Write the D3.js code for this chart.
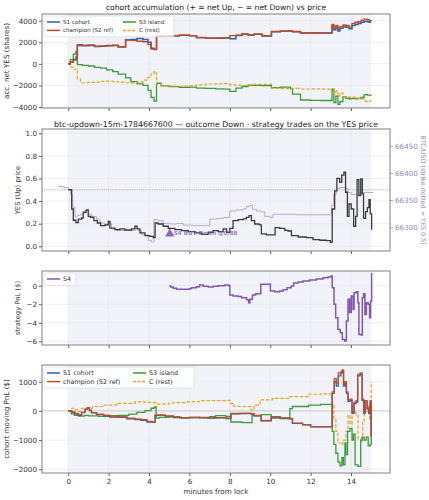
<!DOCTYPE html>
<html><head><meta charset="utf-8">
<script src="https://cdn.jsdelivr.net/npm/d3@7"></script>
<style>body{margin:0;background:#fff}svg{display:block;font-family:"DejaVu Sans",sans-serif}</style>
</head><body><svg id="c" width="429" height="500"></svg>
<script>
// ---------- data ----------
const xTicks = [0, 2, 4, 6, 8, 10, 12, 14];
const accTicks = [-4000, -2000, 0, 2000, 4000];
const priceTicks = [0, 0.2, 0.4, 0.6, 0.8, 1.0];
const btcTicks = [66300, 66350, 66400, 66450];
const s4Ticks = [-6, -4, -2, 0];
const pnlTicks = [-2000, -1000, 0, 1000];
const cohortNames = ["S1 cohort", "champion (S2 ref)", "S3 island", "C (rest)"];
const titles = ["cohort accumulation (+ = net Up, \u2212 = net Down) vs price",
  "btc-updown-15m-1784667600 \u2014 outcome Down \u00b7 strategy trades on the YES price"];
const strikePrice = 0.5;
const trade = {t: 5.03, p: 0.11, label: "S4 BUY Down @0.88"};

// panel 1: accumulated net YES shares [minute, shares]
const champAcc = [[0,0],[0.1,150],[0.25,400],[0.38,650],[0.45,1780],[0.7,1720],[1.0,1760],[1.3,1640],[1.6,1650],[1.9,1700],[2.2,1730],[2.47,1580],[2.84,2200],[3.1,2180],[3.4,2100],[3.7,2050],[3.95,1800],[4.1,1380],[4.25,1320],[4.37,2600],[4.6,2620],[5.0,2600],[5.5,2650],[6.0,2620],[6.35,2450],[6.8,2380],[7.3,2400],[7.7,2420],[8.0,2620],[8.3,2650],[8.6,2780],[8.9,2700],[9.2,2760],[9.6,2600],[10.06,3000],[10.5,3050],[11.0,3080],[11.1,3000],[11.5,2880],[12.0,2880],[12.5,2870],[13.06,3650],[13.15,3300],[13.25,3550],[13.35,3200],[13.45,3450],[13.6,3600],[13.75,3550],[13.9,3400],[14.05,3750],[14.2,3850],[14.35,3900],[14.5,4050],[14.65,4150],[14.8,4100],[14.9,4000],[15.0,3950]];
const s1Acc = [[0,0],[0.1,150],[0.25,350],[0.38,550],[0.45,1700],[0.7,1680],[1.0,1700],[1.3,1600],[1.6,1620],[1.9,1680],[2.2,1700],[2.47,1560],[2.84,2230],[3.1,2250],[3.4,2350],[3.7,2250],[3.95,2000],[4.1,1450],[4.25,1350],[4.37,2580],[4.6,2600],[5.0,2600],[5.5,2640],[6.0,2600],[6.35,2430],[6.8,2370],[7.3,2380],[7.7,2400],[8.0,2330],[8.3,2620],[8.6,2760],[8.9,2680],[9.2,2740],[9.6,2580],[10.06,2980],[10.5,3020],[11.0,3060],[11.1,2980],[11.5,2870],[12.0,2870],[12.5,2860],[13.06,3500],[13.15,3150],[13.25,3400],[13.35,3050],[13.45,3300],[13.6,3450],[13.75,3400],[13.9,3250],[14.05,3550],[14.2,3650],[14.35,3750],[14.5,3850],[14.65,3950],[14.8,3900],[14.9,3850],[15.0,3850]];
const s3Acc = [[0,0],[0.1,400],[0.25,900],[0.38,1150],[0.45,-80],[0.7,-150],[1.0,-200],[1.3,-330],[1.6,-400],[1.9,-560],[2.2,-720],[2.47,-950],[2.84,-1300],[3.1,-1650],[3.4,-1850],[3.7,-2000],[3.95,-2450],[4.1,-3100],[4.25,-3450],[4.37,-1800],[4.6,-2050],[5.0,-2120],[5.5,-2180],[6.0,-2150],[6.35,-2250],[6.8,-2270],[7.3,-2320],[7.7,-2350],[8.0,-2550],[8.3,-2250],[8.6,-2100],[8.9,-2000],[9.2,-2000],[9.6,-2020],[10.06,-2200],[10.5,-2150],[11.0,-2300],[11.1,-2800],[11.5,-3350],[12.0,-3380],[12.5,-3400],[13.06,-2400],[13.15,-3600],[13.25,-3000],[13.35,-3750],[13.45,-3500],[13.6,-3050],[13.75,-3200],[13.9,-3250],[14.05,-3200],[14.2,-3250],[14.35,-3200],[14.5,-3100],[14.65,-2850],[14.8,-2900],[15.0,-2880]];
const cAcc = [[0,0],[0.1,-300],[0.25,-500],[0.38,-650],[0.45,-1400],[0.6,-1750],[1.0,-1720],[1.3,-1700],[1.6,-1620],[1.9,-1600],[2.2,-1640],[2.47,-1700],[2.84,-1750],[3.1,-1760],[3.4,-1700],[3.7,-1500],[3.95,-1250],[4.1,-900],[4.25,-720],[4.37,-1900],[4.6,-2050],[5.0,-2060],[5.5,-2080],[6.0,-2050],[6.35,-1950],[6.8,-1870],[7.3,-1850],[7.7,-1830],[8.0,-1950],[8.3,-2000],[8.6,-2000],[8.9,-1950],[9.2,-1900],[9.6,-1900],[10.06,-2250],[10.5,-2300],[11.0,-2280],[11.5,-2330],[12.0,-2320],[12.5,-2340],[13.06,-2300],[13.15,-2800],[13.25,-2500],[13.35,-3000],[13.45,-2700],[13.6,-3050],[13.75,-3050],[13.9,-3100],[14.05,-3080],[14.2,-3150],[14.35,-3200],[14.5,-3250],[14.65,-3450],[14.8,-3500],[14.9,-3450],[15.0,-3470]];

// panel 2: YES price [minute, price] and BTC [minute, usd]
const yesPrice = [[0,0.5],[0.12,0.5],[0.17,0.33],[0.25,0.23],[0.38,0.21],[0.5,0.24],[0.66,0.25],[0.74,0.3],[0.88,0.32],[0.99,0.265],[1.11,0.255],[1.27,0.227],[1.44,0.206],[1.6,0.183],[1.82,0.19],[1.98,0.22],[2.06,0.16],[2.31,0.147],[2.56,0.153],[2.8,0.144],[3.13,0.153],[3.3,0.177],[3.41,0.153],[3.55,0.118],[3.8,0.094],[4.04,0.088],[4.21,0.076],[4.3,0.206],[4.45,0.197],[4.7,0.177],[4.95,0.159],[5.28,0.147],[5.61,0.138],[5.94,0.13],[6.27,0.118],[6.6,0.106],[6.93,0.124],[7.17,0.138],[7.42,0.13],[7.67,0.153],[7.84,0.124],[8.0,0.159],[8.16,0.227],[8.41,0.236],[8.66,0.242],[8.82,0.256],[8.95,0.271],[9.07,0.227],[9.23,0.197],[9.45,0.189],[9.56,0.109],[9.81,0.1],[10.14,0.1],[10.24,0.165],[10.47,0.159],[10.72,0.141],[10.88,0.135],[11.05,0.094],[11.38,0.082],[11.79,0.076],[12.12,0.059],[12.45,0.053],[12.78,0.05],[12.98,0.035],[13.07,0.33],[13.19,0.49],[13.3,0.6],[13.44,0.566],[13.54,0.63],[13.65,0.655],[13.73,0.478],[13.82,0.265],[13.9,0.374],[14.01,0.33],[14.13,0.177],[14.23,0.265],[14.3,0.59],[14.39,0.448],[14.48,0.596],[14.56,0.463],[14.62,0.247],[14.72,0.306],[14.81,0.342],[14.89,0.413],[14.95,0.286],[15.02,0.147]];
const btcUsd = [[-0.49,66375],[-0.25,66373],[0,66369],[0.12,66361],[0.22,66337],[0.33,66320],[0.45,66322],[0.61,66324],[0.78,66330],[0.91,66333],[1.0,66324],[1.16,66320],[1.4,66315],[1.57,66308],[1.81,66304],[1.98,66308],[2.14,66297],[2.39,66294],[2.89,66294],[3.3,66298],[3.46,66294],[3.63,66286],[3.96,66276],[4.12,66273],[4.24,66314],[4.45,66312],[4.7,66307],[5.03,66306],[5.36,66307],[5.69,66304],[6.18,66303],[6.68,66303],[7.01,66315],[7.34,66316],[7.67,66318],[8.0,66330],[8.33,66332],[8.66,66334],[8.82,66338],[8.99,66340],[9.12,66333],[9.32,66330],[9.56,66328],[9.73,66320],[9.98,66318],[10.14,66324],[10.64,66324],[11.29,66323],[12.12,66323],[12.94,66323],[13.03,66340],[13.14,66361],[13.27,66371],[13.44,66373],[13.73,66371],[13.85,66364],[14.01,66360],[14.26,66360],[14.43,66364],[14.76,66364],[15.09,66365]];
const strikeUsd = 66368.6;

// panel 3: S4 strategy PnL [minute, $]
const s4Pnl = [[5.0,-0.03],[5.07,-0.14],[5.2,-0.28],[5.36,-0.39],[5.69,-0.39],[5.99,-0.32],[6.1,-0.21],[6.35,-0.1],[6.51,0.08],[6.68,-0.07],[6.93,-0.14],[7.18,-0.07],[7.42,0.0],[7.75,0.08],[7.95,0.0],[8.0,-1.0],[8.16,-1.11],[8.41,-1.15],[8.58,-1.29],[8.83,-1.51],[8.93,-1.83],[8.99,-1.47],[9.12,-1.0],[9.28,-0.86],[9.53,0.15],[9.73,0.15],[9.98,0.15],[10.01,-0.57],[10.22,-0.65],[10.47,-0.57],[10.64,-0.43],[10.83,-0.21],[11.04,-0.03],[11.16,0.29],[11.38,0.4],[11.63,0.51],[11.95,0.62],[12.28,0.72],[12.61,0.87],[12.86,0.94],[13.02,1.05],[13.07,-0.21],[13.16,-2.01],[13.24,-3.46],[13.35,-4.72],[13.47,-5.08],[13.57,-5.8],[13.69,-5.98],[13.77,-3.82],[13.85,-1.47],[13.93,-2.9],[14.01,-1.11],[14.1,-2.56],[14.15,-0.75],[14.26,-0.65],[14.34,-1.83],[14.39,-5.26],[14.51,-5.33],[14.56,-1.29],[14.62,-0.86],[14.69,-3.1],[14.76,-1.83],[14.85,-2.01],[14.92,-3.46],[14.97,-1.65],[15.02,1.41]];

// panel 4: cohort moving PnL [minute, $]
const champPnl = [[0,0],[0.17,-40],[0.33,-90],[0.5,-130],[0.66,-50],[0.83,60],[0.95,110],[1.05,20],[1.15,-60],[1.4,-110],[1.75,-150],[2.05,-190],[2.5,-200],[2.9,-250],[3.3,-280],[3.6,-300],[3.9,-360],[4.15,-380],[4.3,-150],[4.4,-140],[4.8,-170],[5.2,-220],[5.6,-230],[6.0,-220],[6.5,-230],[6.9,-240],[7.3,-230],[7.8,-250],[8.05,-90],[8.5,-80],[9.05,-100],[9.2,-160],[9.55,-330],[10.05,-200],[10.5,-250],[10.95,-260],[11.1,-420],[11.6,-470],[12.0,-540],[12.5,-540],[13.07,650],[13.17,1100],[13.27,950],[13.37,1300],[13.5,1350],[13.57,1400],[13.63,900],[13.7,1000],[13.77,650],[13.85,380],[13.95,400],[14.05,-40],[14.15,300],[14.25,350],[14.33,1250],[14.45,1300],[14.55,400],[14.63,-40],[14.7,350],[14.8,100],[14.88,-50],[14.95,350],[15.0,-900]];
const s1Pnl = [[0,0],[0.17,-50],[0.33,-100],[0.5,-150],[0.66,-60],[0.83,50],[0.95,100],[1.05,10],[1.15,-70],[1.4,-130],[1.75,-170],[2.05,-210],[2.5,-220],[2.9,-270],[3.3,-300],[3.6,-320],[3.9,-380],[4.15,-390],[4.3,-160],[4.4,-150],[4.8,-180],[5.2,-230],[5.6,-240],[6.0,-230],[6.5,-240],[6.9,-250],[7.3,-240],[7.8,-260],[8.05,-100],[8.5,-90],[9.05,-110],[9.2,-170],[9.55,-340],[10.05,-210],[10.5,-260],[10.95,-270],[11.1,-430],[11.6,-480],[12.0,-550],[12.5,-550],[13.07,600],[13.17,1000],[13.27,850],[13.37,1200],[13.5,1300],[13.57,1350],[13.63,850],[13.7,950],[13.77,600],[13.85,330],[13.95,350],[14.05,-80],[14.15,250],[14.25,300],[14.33,1200],[14.45,1250],[14.55,350],[14.63,-80],[14.7,300],[14.8,60],[14.88,-90],[14.95,300],[15.0,-850]];
const s3Pnl = [[0,0],[0.15,-100],[0.3,-150],[0.5,-180],[0.8,-150],[1.0,-170],[1.5,-190],[2.0,-160],[2.5,-150],[3.0,-110],[3.4,-50],[3.8,10],[4.1,90],[4.25,120],[4.35,-250],[4.5,-220],[5.0,-200],[5.5,-240],[6.0,-230],[6.5,-220],[7.0,-200],[7.3,-160],[7.8,-190],[8.05,-380],[8.6,-400],[9.1,-160],[9.55,-130],[10.05,-250],[10.5,-240],[10.97,80],[11.1,150],[11.9,200],[12.5,220],[13.07,-700],[13.15,-1150],[13.25,-1450],[13.35,-1750],[13.45,-1880],[13.55,-1600],[13.62,-1850],[13.7,-1100],[13.75,-1500],[13.83,-700],[13.95,-600],[14.05,-1000],[14.12,-800],[14.2,-1850],[14.35,-1900],[14.48,-1000],[14.55,-900],[14.65,-1000],[14.75,-900],[14.85,-1200],[14.95,-1150],[15.0,100]];
const cPnl = [[0,0],[0.17,90],[0.33,40],[0.5,-20],[0.66,90],[0.9,90],[1.2,150],[1.75,200],[2.4,260],[3.3,310],[3.9,290],[4.3,150],[4.4,230],[5.0,270],[5.2,285],[5.9,320],[6.5,350],[7.2,355],[7.8,360],[8.0,260],[8.2,150],[8.9,150],[9.05,30],[9.2,200],[9.5,375],[10.1,430],[10.95,490],[11.9,570],[12.5,580],[13.07,200],[13.15,-300],[13.25,-700],[13.35,-1100],[13.5,-1150],[13.6,-1000],[13.75,-700],[13.85,-150],[13.95,-450],[14.05,150],[14.15,-50],[14.25,-150],[14.35,-950],[14.5,-1050],[14.58,-400],[14.65,50],[14.75,-20],[14.85,200],[14.92,-300],[15.0,1000]];

// ---------- styling ----------
const COL = {s1:"#2563b5", champ:"#c24a22", s3:"#3b9a3c", c:"#e2a620", s4:"#8157b0", btc:"#b9a7da", price:"#3a3a3a", btcAxis:"#9a85c4"};
const SHADE = "#f1f3f9", GRID = "#e2e4ea", FRAME = "#808080", TXT = "#333";
const TICK_FS = 7.2;
const L = 42, R = 390;
const svg = d3.select("#c");

const x = d3.scaleLinear().domain([-1.3, 15.93]).range([L, R]);
const minus = s => String(s).replace("-", "\u2212");

function panel(id, top, bottom, ydom, ticks, fmt, showX) {
  const y = d3.scaleLinear().domain(ydom).range([bottom, top]);
  const g = svg.append("g");
  g.append("clipPath").attr("id", "clip" + id).append("rect")
    .attr("x", L).attr("y", top).attr("width", R - L).attr("height", bottom - top);
  g.append("rect").attr("x", x(0)).attr("y", top).attr("width", x(15) - x(0)).attr("height", bottom - top).attr("fill", SHADE);
  const gr = g.append("g").attr("stroke", GRID).attr("stroke-width", 0.6);
  xTicks.forEach(t => gr.append("line").attr("x1", x(t)).attr("x2", x(t)).attr("y1", top).attr("y2", bottom));
  ticks.forEach(t => gr.append("line").attr("x1", L).attr("x2", R).attr("y1", y(t)).attr("y2", y(t)));
  const ax = g.append("g").attr("transform", `translate(${L},0)`)
    .call(d3.axisLeft(y).tickValues(ticks).tickSize(3).tickPadding(2).tickFormat(d => minus(fmt(d))));
  const bx = g.append("g").attr("transform", `translate(0,${bottom})`)
    .call(d3.axisBottom(x).tickValues(xTicks).tickSize(3).tickPadding(3).tickFormat(showX ? d => d : ""));
  [ax, bx].forEach(a => {
    a.select(".domain").remove();
    a.selectAll("line").attr("stroke", TXT).attr("stroke-width", 0.8);
    a.selectAll("text").attr("fill", TXT).style("font-size", TICK_FS + "px").style("font-family", "DejaVu Sans");
  });
  const plot = g.append("g").attr("clip-path", `url(#clip${id})`);
  return {g, y, plot, top, bottom, frame: () => g.append("rect").attr("x", L).attr("y", top).attr("width", R - L).attr("height", bottom - top).attr("fill", "none").attr("stroke", FRAME).attr("stroke-width", 1)};
}

function stepLine(p, data, color, w, dash, op, scaleY) {
  const yy = scaleY || p.y;
  p.plot.append("path").datum(data)
    .attr("d", d3.line().x(d => x(d[0])).y(d => yy(d[1])).curve(d3.curveStepAfter))
    .attr("fill", "none").attr("stroke", color).attr("stroke-width", w)
    .attr("stroke-dasharray", dash || null).attr("opacity", op || 1);
}

function ylabel(text, xpos, top, bottom, size) {
  svg.append("text").attr("transform", `translate(${xpos},${(top + bottom) / 2}) rotate(-90)`)
    .attr("text-anchor", "middle").attr("fill", TXT).style("font-size", size + "px").text(text);
}

function legend(p, items, fs, w, colGap, rowGap) {
  const x0 = L + 2, y0 = p.top + 2;
  const g = p.g.append("g");
  g.append("rect").attr("x", x0).attr("y", y0).attr("width", w).attr("height", rowGap * Math.min(2, items.length) + 4)
    .attr("rx", 1.5).attr("fill", "#fff").attr("fill-opacity", 0.8).attr("stroke", "#d5d5d5").attr("stroke-width", 0.6);
  items.forEach((it, i) => {
    const c = Math.floor(i / 2), r = i % 2;
    const lx = x0 + 3 + c * colGap, ly = y0 + 6 + r * rowGap;
    g.append("line").attr("x1", lx).attr("x2", lx + 13).attr("y1", ly).attr("y2", ly)
      .attr("stroke", it.color).attr("stroke-width", it.w || 1.5).attr("stroke-dasharray", it.dash || null).attr("opacity", it.op || 1);
    g.append("text").attr("x", lx + 16).attr("y", ly + 2).attr("fill", TXT).style("font-size", fs + "px").text(it.name);
  });
}

// ---------- panel 1 ----------
const fmtInt = d3.format("d");
const p1 = panel(1, 14, 108, [-4093, 4621], accTicks, fmtInt, false);
stepLine(p1, s3Acc, COL.s3, 1.3);
stepLine(p1, cAcc, COL.c, 1.2, "3.5,1.8");
stepLine(p1, s1Acc, COL.s1, 1.5);
stepLine(p1, champAcc, COL.champ, 1.4);
p1.frame();
const cohortItems = [
  {name: cohortNames[0], color: COL.s1},
  {name: cohortNames[1], color: COL.champ},
  {name: cohortNames[2], color: COL.s3},
  {name: cohortNames[3], color: COL.c, dash: "3,1.5"}];
legend(p1, cohortItems, 5.6, 130, 76, 8.4);
ylabel("acc. net YES (shares)", 9, 14, 108, 7.2);
svg.append("text").attr("x", (L + R) / 2).attr("y", 10).attr("text-anchor", "middle").attr("fill", "#222").style("font-size", "7.6px").text(titles[0]);

// ---------- panel 2 ----------
const p2 = panel(2, 129, 251, [-0.042, 1.038], priceTicks, d3.format(".1f"), false);
const yb = d3.scaleLinear().domain([66256.4, 66480.7]).range([251, 129]);
p2.plot.append("line").attr("x1", L).attr("x2", R).attr("y1", p2.y(strikePrice)).attr("y2", p2.y(strikePrice))
  .attr("stroke", "#aaa").attr("stroke-width", 0.8).attr("stroke-dasharray", "1,1.2");
p2.plot.append("line").attr("x1", L).attr("x2", R).attr("y1", yb(strikeUsd)).attr("y2", yb(strikeUsd))
  .attr("stroke", "#c9bde3").attr("stroke-width", 0.6).attr("stroke-dasharray", "1,1.5");
stepLine(p2, btcUsd, COL.btc, 1.0, null, 1, yb);
stepLine(p2, yesPrice, COL.price, 1.3);
p2.plot.append("path").attr("d", d3.symbol().type(d3.symbolTriangle).size(38)())
  .attr("transform", `translate(${x(trade.t)},${p2.y(trade.p)})`).attr("fill", COL.s4).attr("opacity", 0.9);
p2.plot.append("text").attr("x", x(trade.t) + 4).attr("y", p2.y(trade.p) + 1).attr("fill", COL.s4).attr("opacity", 0.75)
  .style("font-size", "5.6px").style("font-weight", "bold").text(trade.label);
const rax = p2.g.append("g").attr("transform", `translate(${R},0)`)
  .call(d3.axisRight(yb).tickValues(btcTicks).tickSize(3).tickPadding(2).tickFormat(d3.format("d")));
rax.select(".domain").remove();
rax.selectAll("line").attr("stroke", COL.btcAxis).attr("stroke-width", 0.8);
rax.selectAll("text").attr("fill", COL.btcAxis).style("font-size", TICK_FS + "px").style("font-family", "DejaVu Sans");
p2.frame();
ylabel("YES (Up) price", 20, 129, 251, 6.8);
svg.append("text").attr("transform", `translate(421,190) rotate(90)`).attr("text-anchor", "middle")
  .attr("fill", COL.btcAxis).style("font-size", "6.4px").text("BTC/USD (strike dotted = YES 0.5)");
svg.append("text").attr("x", (L + R) / 2).attr("y", 127).attr("text-anchor", "middle").attr("fill", "#222").style("font-size", "7.8px").text(titles[1]);

// ---------- panel 3 ----------
const p3 = panel(3, 271, 345, [-6.4, 1.59], s4Ticks, fmtInt, false);
stepLine(p3, s4Pnl, COL.s4, 1.5);
p3.frame();
legend(p3, [{name: "S4", color: COL.s4}], 6.2, 32, 76, 8.4);
ylabel("strategy PnL ($)", 20, 271, 345, 6.8);

// ---------- panel 4 ----------
const p4 = panel(4, 365, 473, [-2127, 1572], pnlTicks, fmtInt, true);
p4.plot.append("line").attr("x1", L).attr("x2", R).attr("y1", p4.y(0)).attr("y2", p4.y(0)).attr("stroke", "#cfcfcf").attr("stroke-width", 1);
stepLine(p4, cPnl, COL.c, 1.2, "3.5,1.8");
stepLine(p4, s3Pnl, COL.s3, 1.3);
stepLine(p4, s1Pnl, COL.s1, 1.3);
stepLine(p4, champPnl, COL.champ, 1.4, null, 0.9);
p4.frame();
legend(p4, cohortItems, 6.4, 150, 86, 8.6);
ylabel("cohort moving PnL ($)", 9, 365, 473, 7.2);
svg.append("text").attr("x", (L + R) / 2).attr("y", 494).attr("text-anchor", "middle").attr("fill", TXT).style("font-size", "7.2px").text("minutes from lock");
</script></body></html>
